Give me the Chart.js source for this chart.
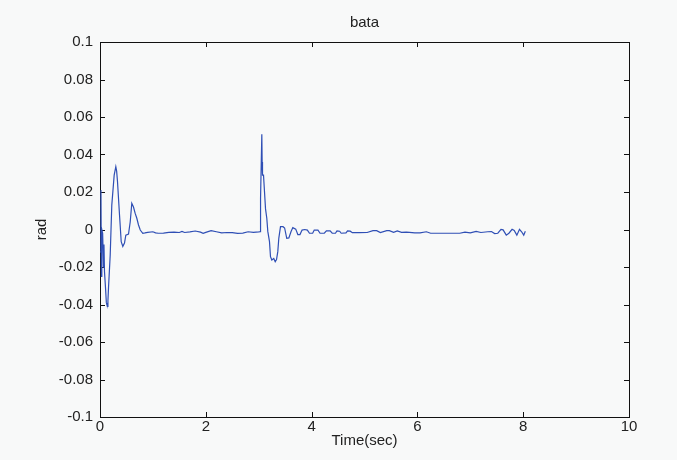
<!DOCTYPE html>
<html>
<head>
<meta charset="utf-8">
<script src="https://cdn.jsdelivr.net/npm/chart.js@4/dist/chart.umd.min.js"></script>
<style>
  html, body { margin: 0; padding: 0; background: #f8f9f9; }
  #wrap { width: 677px; height: 460px; }
</style>
</head>
<body>
<div id="wrap"><canvas id="bata"></canvas></div>
<script>
// values (time in sec, bata in rad)
var time = [
  0, 0.018, 0.026, 0.034, 0.05, 0.066, 0.075, 0.085, 0.104, 0.12, 0.129, 0.142, 0.15, 0.161,
  0.193, 0.223, 0.268, 0.299, 0.315, 0.331, 0.369, 0.401, 0.431, 0.463, 0.488, 0.539,
  0.571, 0.601, 0.633, 0.665, 0.696, 0.728, 0.761, 0.809,
  0.85, 0.9, 1.0, 1.05, 1.1, 1.2, 1.3, 1.4, 1.5, 1.55, 1.6, 1.7, 1.8, 1.9, 1.95, 2.0,
  2.1, 2.2, 2.3, 2.4, 2.5, 2.6, 2.7, 2.8, 2.9, 3.0, 3.03,
  3.035, 3.059, 3.065, 3.072, 3.091, 3.11, 3.129, 3.153, 3.172, 3.204, 3.223, 3.248,
  3.285, 3.312, 3.337, 3.361, 3.38, 3.412, 3.46, 3.49, 3.53, 3.57, 3.61, 3.645,
  3.70, 3.74, 3.78, 3.82, 3.87, 3.92, 3.96, 4.02, 4.05, 4.12, 4.16, 4.24, 4.28,
  4.35, 4.39, 4.45, 4.48, 4.53, 4.56, 4.65, 4.68, 4.73, 4.77,
  4.9, 5.05, 5.16, 5.23, 5.3, 5.42, 5.47, 5.55, 5.62, 5.7, 5.79, 5.85,
  5.95, 6.05, 6.17, 6.25, 6.4, 6.6, 6.8, 6.9, 7.0, 7.11, 7.2, 7.33, 7.4, 7.46,
  7.52, 7.58, 7.62, 7.68, 7.73, 7.79, 7.83, 7.88, 7.93, 7.97, 8.01, 8.04
];

var bata = [
  -0.012, 0.021, -0.025, 0.0, -0.002, -0.02, -0.008, -0.0225, -0.031, -0.039, -0.040, -0.041, -0.038, -0.031,
  -0.0136, 0.013, 0.029, 0.0335, 0.031, 0.0255, 0.0077, -0.0065, -0.009, -0.0072, -0.003, -0.0024,
  0.004, 0.014, 0.012, 0.0086, 0.006, 0.0024, -0.0003, -0.002,
  -0.0018, -0.0015, -0.0012, -0.0018, -0.002, -0.0019, -0.0015, -0.0014, -0.0016, -0.001, -0.0016, -0.0013, -0.0008, -0.0014, -0.002, -0.0015,
  -0.0006, -0.0012, -0.0018, -0.0016, -0.0017, -0.0021, -0.0019, -0.0012, -0.0015, -0.0013, -0.0012,
  0.0166, 0.0508, 0.036, 0.029, 0.029, 0.020, 0.011, 0.006, -0.001, -0.0065, -0.0145, -0.0163,
  -0.0155, -0.0172, -0.016, -0.0118, -0.0047, 0.0015, 0.0015, 0.0008, -0.0047, -0.0045, -0.0012, 0.001,
  0.0002, -0.0027, -0.0027, -0.0003, 0.0, -0.0003, -0.002, -0.002, -0.0003, -0.0003, -0.002, -0.002, -0.0007,
  -0.0007, -0.002, -0.002, -0.0007, -0.0009, -0.002, -0.0018, -0.0007, -0.0009, -0.0017,
  -0.0017, -0.0016, -0.0006, -0.0006, -0.0016, -0.0006, -0.0006, -0.0015, -0.0008, -0.0015, -0.0014, -0.0015,
  -0.0018, -0.0018, -0.0012, -0.002, -0.002, -0.002, -0.002, -0.0014, -0.0018, -0.001, -0.0016, -0.0012, -0.0011, -0.0022,
  -0.002, 0.0001, -0.0002, -0.003, -0.002, 0.0001, -0.0005, -0.003, 0.0001, -0.0012, -0.003, -0.0009
];

var xTicks = [0, 2, 4, 6, 8, 10];
var yTicks = [-0.1, -0.08, -0.06, -0.04, -0.02, 0, 0.02, 0.04, 0.06, 0.08, 0.1];

var points = [];
for (i = 0; i < time.length; i++) {
  points.push({ x: time[i], y: bata[i] });
}

// matlab style box with inward ticks on all four sides, drawn under the line
var boxPlugin = {
  id: 'box',
  beforeDraw: function (chart) {
    var ctx = chart.ctx;
    ctx.save();
    ctx.fillStyle = '#f8f9f9';
    ctx.fillRect(0, 0, chart.width, chart.height);
    ctx.restore();
  },
  beforeDatasetsDraw: function (chart) {
    var ctx = chart.ctx;
    var a = chart.chartArea;
    var xs = chart.scales.x;
    var ys = chart.scales.y;
    var len = 5;
    ctx.save();
    ctx.strokeStyle = '#111';
    ctx.lineWidth = 1;
    ctx.strokeRect(Math.round(a.left) + 0.5, Math.round(a.top) + 0.5,
      Math.round(a.right - a.left), Math.round(a.bottom - a.top));
    ctx.beginPath();
    xTicks.forEach(function (t) {
      var px = Math.round(xs.getPixelForValue(t)) + 0.5;
      ctx.moveTo(px, a.bottom); ctx.lineTo(px, a.bottom - len);
      ctx.moveTo(px, a.top); ctx.lineTo(px, a.top + len);
    });
    yTicks.forEach(function (t) {
      var py = Math.round(ys.getPixelForValue(t)) + 0.5;
      ctx.moveTo(a.left, py); ctx.lineTo(a.left + len, py);
      ctx.moveTo(a.right, py); ctx.lineTo(a.right - len, py);
    });
    ctx.stroke();
    ctx.restore();
  }
};

var font = { family: 'Liberation Sans, Arial, sans-serif', size: 15, weight: 'normal' };

new Chart(document.getElementById('bata'), {
  type: 'line',
  data: {
    datasets: [{
      label: 'bata',
      data: points,
      borderColor: '#2f4fb5',
      borderWidth: 1.2,
      pointRadius: 0,
      tension: 0,
      fill: false
    }]
  },
  options: {
    responsive: true,
    maintainAspectRatio: false,
    animation: false,
    layout: { padding: { left: 0, right: 48, top: 0, bottom: 0 } },
    plugins: {
      legend: { display: false },
      tooltip: { enabled: false },
      title: {
        display: true,
        text: 'bata',
        fullSize: false,
        color: '#222',
        font: font,
        padding: { top: 14, bottom: 10 }
      }
    },
    scales: {
      x: {
        type: 'linear',
        min: 0,
        max: 10,
        afterBuildTicks: function (s) { s.ticks = xTicks.map(function (v) { return { value: v }; }); },
        afterFit: function (s) { s.height = 43; },
        grid: { display: false, drawTicks: false },
        border: { display: false },
        ticks: { color: '#222', font: font, padding: 1, maxRotation: 0 },
        title: { display: true, text: 'Time(sec)', color: '#222', font: font, padding: { top: 0, bottom: 10 } }
      },
      y: {
        min: -0.1,
        max: 0.1,
        afterBuildTicks: function (s) { s.ticks = yTicks.map(function (v) { return { value: v }; }); },
        afterFit: function (s) { s.width = 100; },
        grid: { display: false, drawTicks: false },
        border: { display: false },
        ticks: {
          color: '#222', font: font, padding: 7,
          callback: function (v) { return String(+v.toFixed(2)); }
        },
        title: { display: true, text: 'rad', color: '#222', font: font, padding: { top: 33, bottom: 0 } }
      }
    }
  },
  plugins: [boxPlugin]
});
</script>
</body>
</html>
